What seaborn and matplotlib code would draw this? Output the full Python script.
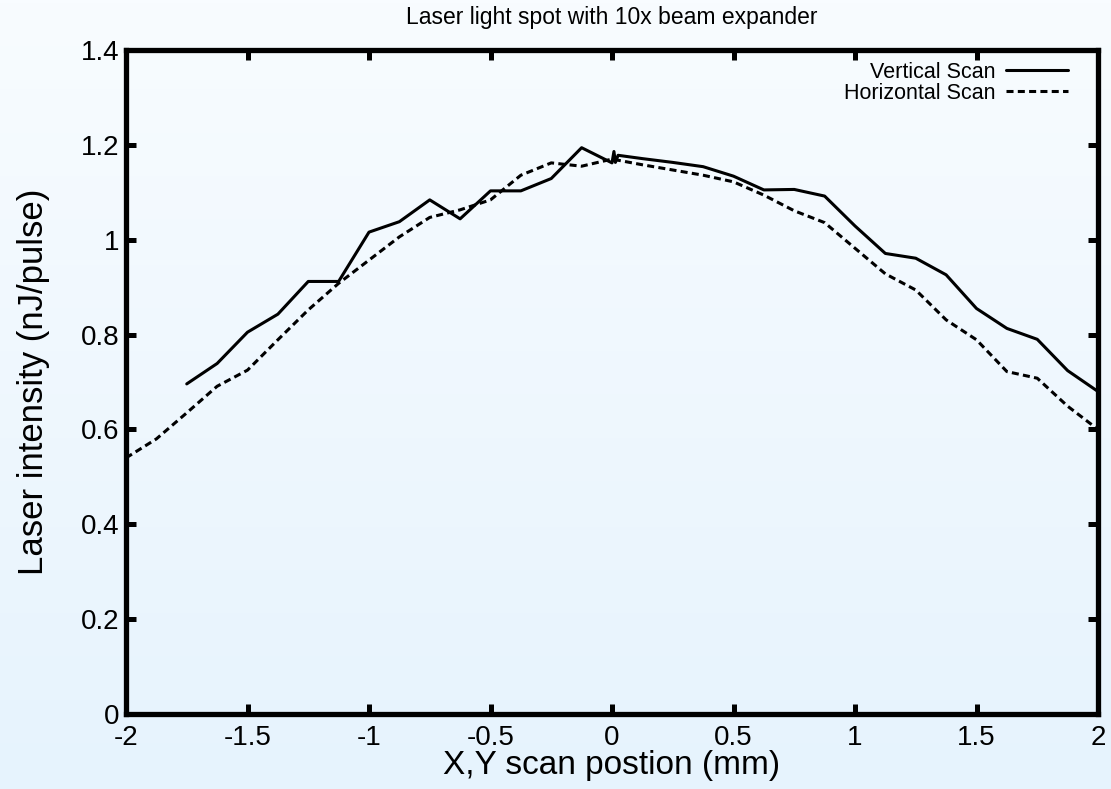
import numpy as np
import pandas as pd
import matplotlib
matplotlib.use("Agg")
import matplotlib.pyplot as plt
import seaborn as sns
from matplotlib.colors import LinearSegmentedColormap

# ---- data ----
vert_x = [-1.75, -1.625, -1.5, -1.375, -1.25, -1.125, -1.0, -0.875, -0.75, -0.625,
          -0.5, -0.375, -0.25, -0.125, 0.0, 0.008, 0.014, 0.025, 0.125, 0.25, 0.375,
          0.5, 0.625, 0.75, 0.875, 1.0, 1.125, 1.25, 1.375, 1.5, 1.625, 1.75, 1.875, 2.0]
vert_y = [0.696, 0.739, 0.805, 0.843, 0.912, 0.912, 1.016, 1.038, 1.084, 1.044,
          1.103, 1.103, 1.129, 1.194, 1.162, 1.186, 1.163, 1.178, 1.171, 1.163, 1.154,
          1.134, 1.105, 1.106, 1.092, 1.029, 0.971, 0.961, 0.926, 0.855, 0.813, 0.790, 0.724, 0.680]

horiz_x = [-2.0, -1.875, -1.75, -1.625, -1.5, -1.375, -1.25, -1.125, -1.0, -0.875,
           -0.75, -0.625, -0.5, -0.375, -0.25, -0.125, 0.0, 0.125, 0.25, 0.375,
           0.5, 0.625, 0.75, 0.875, 1.0, 1.125, 1.25, 1.375, 1.5, 1.625, 1.75, 1.875, 2.0]
horiz_y = [0.540, 0.580, 0.635, 0.691, 0.725, 0.789, 0.852, 0.908, 0.957, 1.006,
           1.047, 1.063, 1.084, 1.136, 1.162, 1.155, 1.170, 1.158, 1.147, 1.136,
           1.122, 1.094, 1.061, 1.036, 0.982, 0.928, 0.894, 0.831, 0.789, 0.722, 0.708, 0.649, 0.600]

x_ticks = [-2, -1.5, -1, -0.5, 0, 0.5, 1, 1.5, 2]
x_tick_labels = ["-2", "-1.5", "-1", "-0.5", "0", "0.5", "1", "1.5", "2"]
y_ticks = [0, 0.2, 0.4, 0.6, 0.8, 1.0, 1.2, 1.4]
y_tick_labels = ["0", "0.2", "0.4", "0.6", "0.8", "1", "1.2", "1.4"]

title = "Laser light spot with 10x beam expander"
xlabel = "X,Y scan postion (mm)"
ylabel = "Laser intensity (nJ/pulse)"

sns.set_theme(style="white")
plt.rcParams["font.family"] = ["Liberation Sans", "DejaVu Sans"]

fig = plt.figure(figsize=(11.11, 7.89), dpi=100)

# background gradient
bg = fig.add_axes([0, 0, 1, 1], zorder=-10)
grad = np.linspace(0, 1, 256).reshape(-1, 1)
cmap = LinearSegmentedColormap.from_list("bg", ["#f8fcff", "#e6f3fd"])
bg.imshow(grad, aspect="auto", cmap=cmap, extent=[0, 1, 0, 1], origin="upper")
bg.set_axis_off()

ax = fig.add_axes([126 / 1111, 1 - 714 / 789, (1098 - 126) / 1111, (714 - 50) / 789])
ax.set_facecolor("none")

dfv = pd.DataFrame({"x": vert_x, "y": vert_y})
dfh = pd.DataFrame({"x": horiz_x, "y": horiz_y})

sns.lineplot(data=dfv, x="x", y="y", ax=ax, sort=False, color="black", lw=2.2,
             label="Vertical Scan", estimator=None)
sns.lineplot(data=dfh, x="x", y="y", ax=ax, sort=False, color="black", lw=2.2,
             label="Horizontal Scan", estimator=None)
ax.lines[1].set_dashes([2.3, 1.4])

ax.set_xlim(-2, 2)
ax.set_ylim(0, 1.4)
ax.set_xticks(x_ticks)
ax.set_xticklabels(x_tick_labels)
ax.set_yticks(y_ticks)
ax.set_yticklabels(y_tick_labels)

for s in ax.spines.values():
    s.set_visible(True)
    s.set_linewidth(3.8)
    s.set_color("black")

ax.tick_params(axis="both", which="major", direction="in", length=7.5, width=3.6,
               color="black", labelsize=20, labelcolor="black",
               top=True, right=True, bottom=True, left=True)
ax.tick_params(axis="x", pad=8)
ax.tick_params(axis="y", pad=5)

ax.set_xlabel(xlabel, fontsize=24, color="black", labelpad=-1)
ax.set_ylabel(ylabel, fontsize=25, color="black", labelpad=22)
ax.set_title(title, fontsize=16.5, color="black", pad=19)

leg = ax.legend(loc="upper right", bbox_to_anchor=(1 - 30 / 972, 1 - 12 / 664),
                frameon=False, markerfirst=False, fontsize=15.5, handlelength=2.9,
                handletextpad=0.45, labelspacing=0.0, borderpad=0, borderaxespad=0)
for t in leg.get_texts():
    t.set_color("black")

fig.savefig("out.png", dpi=100)
